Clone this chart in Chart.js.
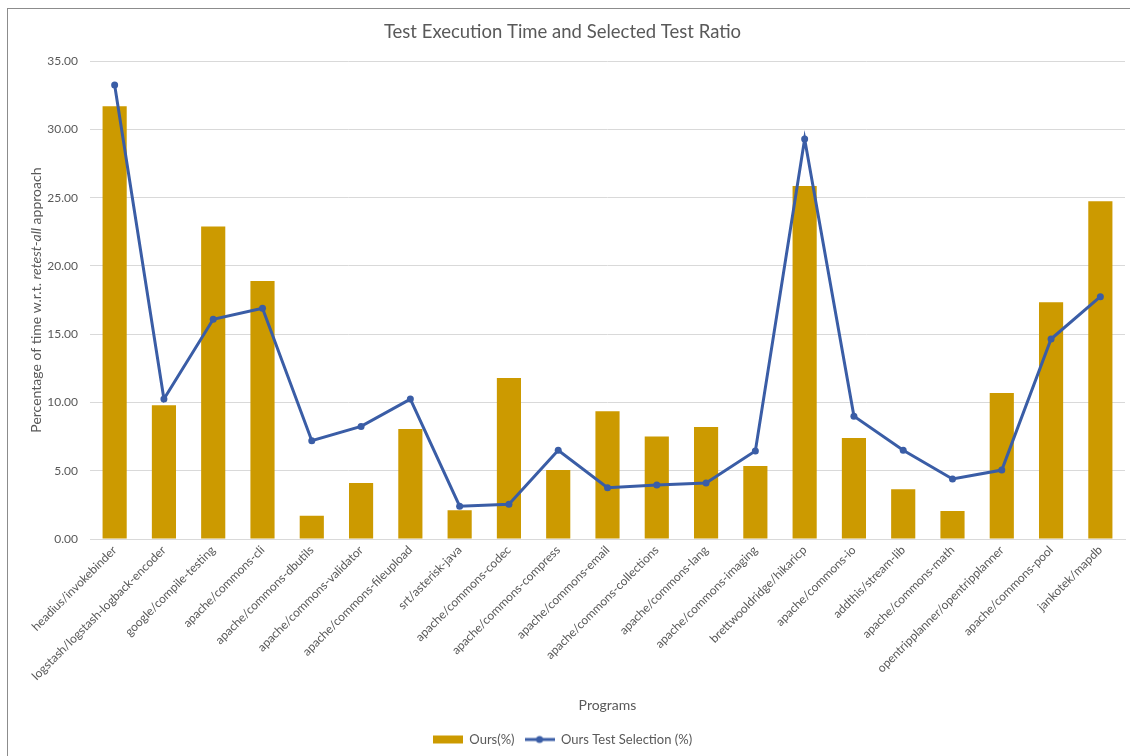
<!DOCTYPE html>
<html>
<head>
<meta charset="utf-8">
<script src="https://cdn.jsdelivr.net/npm/chart.js@4"></script>
<style>
  html, body { margin:0; padding:0; background:#fff; }
  #wrap { position:relative; width:1130px; height:756px; }
  #frame { position:absolute; left:7px; top:8px; right:0; bottom:0; border-left:1px solid #8c8c8c; border-top:1px solid #8c8c8c; pointer-events:none; }
  canvas { position:absolute; left:0; top:0; }
</style>
</head>
<body>
<div id="wrap">
  <canvas id="chart" width="1130" height="756"></canvas>
  <div id="frame"></div>
</div>
<script>
const programs = [
  "headius/invokebinder","logstash/logstash-logback-encoder","google/compile-testing","apache/commons-cli",
  "apache/commons-dbutils","apache/commons-validator","apache/commons-fileupload","srt/asterisk-java",
  "apache/commons-codec","apache/commons-compress","apache/commons-email","apache/commons-collections",
  "apache/commons-lang","apache/commons-imaging","brettwooldridge/hikaricp","apache/commons-io",
  "addthis/stream-lib","apache/commons-math","opentripplanner/opentripplanner","apache/commons-pool","jankotek/mapdb"
];
const oursTime = [31.7, 9.8, 22.9, 18.9, 1.7, 4.1, 8.05, 2.1, 11.8, 5.05, 9.35, 7.5, 8.2, 5.35, 25.85, 7.4, 3.65, 2.05, 10.7, 17.35, 24.75];
const oursSelection = [33.25, 10.25, 16.1, 16.9, 7.2, 8.25, 10.25, 2.4, 2.55, 6.5, 3.75, 3.95, 4.1, 6.45, 29.3, 9.0, 6.5, 4.4, 5.05, 14.65, 17.75];

const gold = "#cc9a00";
const blue = "#3a5da6";
const grey = "#595959";
const fontFam = "Lato, 'Noto Sans', sans-serif";

function swatch(kind){
  const c = document.createElement("canvas");
  c.width = 30; c.height = 10;
  const g = c.getContext("2d");
  if(kind === "bar"){
    g.fillStyle = gold;
    g.fillRect(0, 1, 30, 8);
  } else {
    g.strokeStyle = blue; g.lineWidth = 3;
    g.beginPath(); g.moveTo(0,5); g.lineTo(30,5); g.stroke();
    g.fillStyle = blue;
    g.beginPath(); g.arc(15,5,3.5,0,Math.PI*2); g.fill();
  }
  return c;
}
const barSwatch = swatch("bar");
const lineSwatch = swatch("line");

// y title with italic "retest-all"
const yTitlePlugin = {
  id:"yTitle",
  afterDraw(chart){
    const ctx = chart.ctx;
    const area = chart.chartArea;
    const parts = [
      ["Percentage of time w.r.t. ", "normal"],
      ["retest-all", "italic"],
      [" approach", "normal"]
    ];
    ctx.save();
    let total = 0;
    parts.forEach(p=>{ ctx.font = p[1]+" 14px "+fontFam; total += ctx.measureText(p[0]).width; });
    ctx.translate(36, (area.top + area.bottom)/2);
    ctx.rotate(-Math.PI/2);
    ctx.fillStyle = grey;
    ctx.textBaseline = "middle";
    ctx.textAlign = "left";
    let x = -total/2;
    parts.forEach(p=>{
      ctx.font = p[1]+" 14px "+fontFam;
      ctx.fillText(p[0], x, 0);
      x += ctx.measureText(p[0]).width;
    });
    ctx.restore();
  }
};

new Chart(document.getElementById("chart"), {
  type:"bar",
  data:{
    labels: programs,
    datasets:[
      {
        type:"bar",
        label:"Ours(%)",
        data: oursTime,
        backgroundColor: gold,
        categoryPercentage: 1,
        barPercentage: 0.49,
        order: 1
      },
      {
        type:"line",
        label:"Ours Test Selection (%)",
        data: oursSelection,
        borderColor: blue,
        backgroundColor: blue,
        borderWidth: 3,
        pointRadius: 3.5,
        pointBackgroundColor: blue,
        pointBorderWidth: 0,
        tension: 0,
        order: 0
      }
    ]
  },
  options:{
    responsive:false,
    animation:false,
    devicePixelRatio:1,
    layout:{ padding:{ left:0, right:5, top:0, bottom:0 } },
    plugins:{
      title:{
        display:true,
        text:"Test Execution Time and Selected Test Ratio",
        color: grey,
        font:{ family: fontFam, size:18.5, weight:"normal" },
        padding:{ top:21, bottom:18 }
      },
      legend:{
        position:"bottom",
        labels:{
          color: grey,
          font:{ family: fontFam, size:13 },
          usePointStyle:true,
          pointStyleWidth:30,
          boxHeight:10,
          padding:10,
          generateLabels(chart){
            return chart.data.datasets.map((ds,i)=>({
              text: ds.label,
              datasetIndex: i,
              fontColor: grey,
              pointStyle: i === 0 ? barSwatch : lineSwatch,
              fillStyle: ds.backgroundColor,
              strokeStyle: ds.borderColor || ds.backgroundColor,
              lineWidth: 0,
              hidden: false
            }));
          }
        }
      },
      tooltip:{ enabled:false }
    },
    scales:{
      x:{
        grid:{ display:false, drawTicks:false },
        border:{ color:"#d9d9d9" },
        ticks:{
          color: grey,
          font:{ family: fontFam, size:12 },
          minRotation:45, maxRotation:45,
          autoSkip:false,
          padding:4
        },
        title:{
          display:true,
          text:"Programs",
          color: grey,
          font:{ family: fontFam, size:14 },
          padding:{ top:0, bottom:9 }
        },
        afterFit(scale){ scale.height = 184; }
      },
      y:{
        min:0, max:35,
        grid:{ color:"#d9d9d9", drawTicks:false },
        border:{ display:false },
        ticks:{
          stepSize:5,
          color: grey,
          font:{ family: fontFam, size:12 },
          padding:12,
          callback:(v)=>Number(v).toFixed(2)
        },
        afterFit(scale){ scale.width = 90; }
      }
    }
  },
  plugins:[yTitlePlugin]
});
</script>
</body>
</html>
